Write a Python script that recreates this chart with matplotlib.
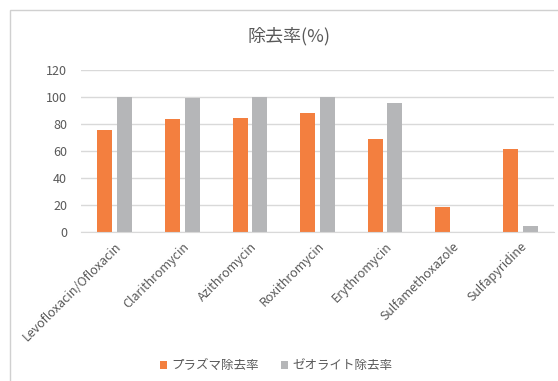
import numpy as np
import matplotlib.pyplot as plt
from matplotlib.patches import Rectangle

plt.rcParams["font.family"] = ["Noto Sans CJK JP", "DejaVu Sans"]

# Dados
compostos = ["Levofloxacin/Ofloxacin", "Clarithromycin", "Azithromycin",
             "Roxithromycin", "Erythromycin", "Sulfamethoxazole", "Sulfapyridine"]
plasma = [75.5, 84, 84.5, 88.5, 68.5, 18.5, 61.5]
zeolita = [100, 99, 100, 100, 95.5, 0, 4]

cor_plasma = "#F37F3F"
cor_zeolita = "#B5B6B8"
cor_texto = "#595959"

fig = plt.figure(figsize=(5.58, 3.81), dpi=100)
ax = fig.add_axes([0.145, 0.392, 0.848, 0.424])

# Moldura do gráfico
fig.patches.append(Rectangle((10 / 558, -0.1), 1.2, 1 - 10 / 381 + 0.1,
                             transform=fig.transFigure, fill=False,
                             edgecolor="#d0d0d0", linewidth=1))

x = np.arange(len(compostos))
w = 0.22
ax.bar(x - 0.145, plasma, width=w, color=cor_plasma, label="プラズマ除去率", zorder=2)
ax.bar(x + 0.145, zeolita, width=w, color=cor_zeolita, label="ゼオライト除去率", zorder=2)

ax.set_xlim(-0.5, len(compostos) - 0.5)
ax.set_ylim(0, 120)
ax.set_yticks(range(0, 121, 20))
ax.grid(axis="y", color="#d9d9d9", linewidth=1, zorder=0)
for s in ["top", "right", "left"]:
    ax.spines[s].set_visible(False)
ax.spines["bottom"].set_color("#d9d9d9")
ax.tick_params(axis="both", length=0, colors=cor_texto, labelsize=9)
ax.tick_params(axis="y", pad=10)
ax.tick_params(axis="x", pad=6)
ax.set_xticks(x)
ax.set_xticklabels(compostos, rotation=45, ha="right", rotation_mode="anchor")

# Título centralizado na área do gráfico (não só nos eixos)
fig.text(289 / 558, 1 - 36 / 381, "除去率(%)", fontsize=13, color=cor_texto,
         ha="center", va="center")

fig.legend(loc="center", bbox_to_anchor=(0.495, 0.04), ncol=2, frameon=False,
           fontsize=9, labelcolor=cor_texto, handlelength=0.55, handleheight=0.55,
           handletextpad=0.35, columnspacing=1.8)

fig.savefig("out.png", dpi=100)
